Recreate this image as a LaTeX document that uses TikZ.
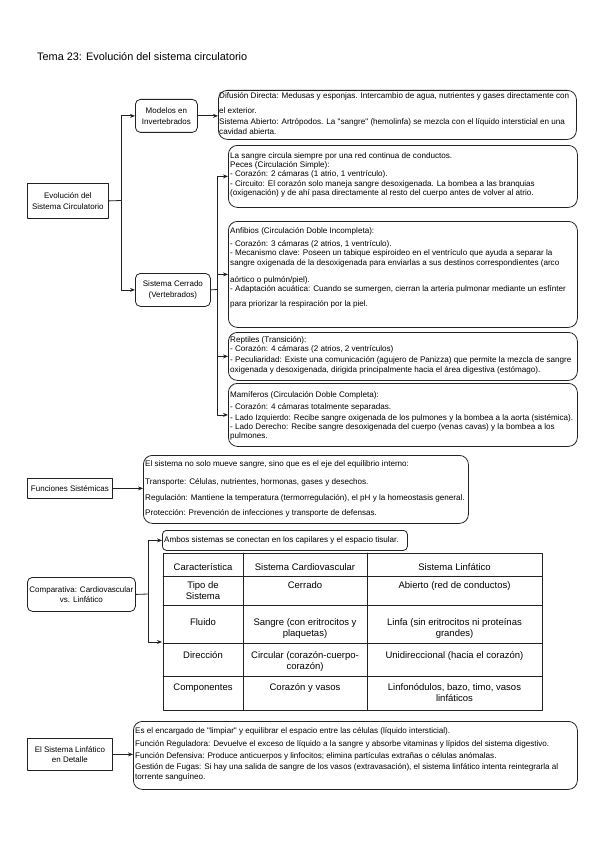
\documentclass[tikz,border=0pt]{standalone}
\usepackage{fontspec}
\setmainfont{Liberation Sans}
\usetikzlibrary{arrows.meta, positioning}
\definecolor{ink}{HTML}{222222}
\tikzset{
  >={Stealth[length=5pt, width=4pt]},
  every picture/.style={line cap=round, line join=round},
  caja/.style={draw=ink, line width=0.8pt, fill=white, align=center, inner sep=0pt,
               anchor=north west, font=\fontsize{8}{10.5}\selectfont},
  rcaja/.style={caja, rounded corners=5pt},
  % boxes holding the explanatory text
  nota/.style={draw=ink, line width=0.8pt, rounded corners=9pt, anchor=north west, inner sep=0pt},
  texto/.style={anchor=north west, align=left, inner sep=0pt, font=\fontsize{8.1}{9.6}\selectfont},
  celda/.style={anchor=north, align=center, inner sep=0pt, font=\fontsize{9.5}{11.8}\selectfont},
  sig/.style={->, line width=0.8pt, draw=ink},
  lin/.style={line width=0.8pt, draw=ink},
}

\begin{document}
\begin{tikzpicture}[x=1pt, y=-1pt]
  \useasboundingbox (0,0) rectangle (599,848);
  \node[anchor=base west, inner sep=0pt, font=\fontsize{10.9}{13}\selectfont] (titulo) at (37,61)
    {Tema 23: Evolución del sistema circulatorio};
  % left column
  \node[caja, minimum width=81, minimum height=35] (evol) at (27,183) {Evolución del\\Sistema Circulatorio};
  \node[rcaja, minimum width=62, minimum height=33] (modinv) at (135,99) {Modelos en\\Invertebrados};
  \node[rcaja, minimum width=75, minimum height=33] (sistcer) at (135,273) {Sistema Cerrado\\(Vertebrados)};
  \node[caja, minimum width=85, minimum height=20] (funcs) at (27,478) {Funciones Sistémicas};
  \node[rcaja, minimum width=108, minimum height=34] (comp) at (27,577) {Comparativa: Cardiovascular\\vs. Linfático};
  \node[caja, minimum width=85, minimum height=32] (linf) at (27,738) {El Sistema Linfático\\en Detalle};
  % text boxes
  \node[nota, minimum width=358, minimum height=49] (binv) at (218,90) {};
  \node[texto] (tinv) at (219,92.3) {Difusión Directa: Medusas y esponjas. Intercambio de agua, nutrientes y gases directamente con\\[5.4pt]
    el exterior.\\[1.4pt]
    Sistema Abierto: Artrópodos. La \textquotedbl sangre\textquotedbl\ (hemolinfa) se mezcla con el líquido intersticial en una\\
    cavidad abierta.};
  \node[nota, minimum width=349, minimum height=62] (bpeces) at (228,145) {};
  \node[texto] (tpeces) at (230,152.3) {La sangre circula siempre por una red continua de conductos.\\[-0.3pt]
    Peces (Circulación Simple):\\[-0.3pt]
    - Corazón: 2 cámaras (1 atrio, 1 ventrículo).\\
    - Circuito: El corazón solo maneja sangre desoxigenada. La bombea a las branquias\\[-0.3pt]
    (oxigenación) y de ahí pasa directamente al resto del cuerpo antes de volver al atrio.};
  \node[nota, minimum width=349, minimum height=106] (banf) at (228,221) {};
  \node[texto] (tanf) at (230,227.3) {Anfibios (Circulación Doble Incompleta):\\[3.4pt]
    - Corazón: 3 cámaras (2 atrios, 1 ventrículo).\\[-0.4pt]
    - Mecanismo clave: Poseen un tabique espiroideo en el ventrículo que ayuda a separar la\\
    sangre oxigenada de la desoxigenada para enviarlas a sus destinos correspondientes (arco\\[7.4pt]
    aórtico o pulmón/piel).\\
    - Adaptación acuática: Cuando se sumergen, cierran la arteria pulmonar mediante un esfínter\\[5.4pt]
    para priorizar la respiración por la piel.};
  \node[nota, minimum width=349, minimum height=48] (brept) at (228,332) {};
  \node[texto] (trept) at (230,336.3) {Reptiles (Transición):\\[-0.6pt]
    - Corazón: 4 cámaras (2 atrios, 2 ventrículos)\\[1.4pt]
    - Peculiaridad: Existe una comunicación (agujero de Panizza) que permite la mezcla de sangre\\
    oxigenada y desoxigenada, dirigida principalmente hacia el área digestiva (estómago).};
  \node[nota, minimum width=349, minimum height=63] (bmam) at (228,383) {};
  \node[texto] (tmam) at (230,391.3) {Mamíferos (Circulación Doble Completa):\\[2.4pt]
    - Corazón: 4 cámaras totalmente separadas.\\[1.4pt]
    - Lado Izquierdo: Recibe sangre oxigenada de los pulmones y la bombea a la aorta (sistémica).\\[-0.6pt]
    - Lado Derecho: Recibe sangre desoxigenada del cuerpo (venas cavas) y la bombea a los\\[-0.6pt]
    pulmones.};
  \node[nota, minimum width=325, minimum height=68] (bfunc) at (143,455) {};
  \node[texto] (tfunc) at (145,460.3) {El sistema no solo mueve sangre, sino que es el eje del equilibrio interno:\\[8.4pt]
    Transporte: Células, nutrientes, hormonas, gases y desechos.\\[6.4pt]
    Regulación: Mantiene la temperatura (termorregulación), el pH y la homeostasis general.\\[5.4pt]
    Protección: Prevención de infecciones y transporte de defensas.};
  \node[nota, rounded corners=4pt, minimum width=245, minimum height=20] (ambos) at (162,530) {};
  \node[texto, anchor=west] (tambos) at (164,540) {Ambos sistemas se conectan en los capilares y el espacio tisular.};
  \node[nota, minimum width=444, minimum height=68] (blinf) at (133,721) {};
  \node[texto] (tlinf) at (135,727.3) {Es el encargado de \textquotedbl limpiar\textquotedbl\ y equilibrar el espacio entre las células (líquido intersticial).\\[3.4pt]
    Función Reguladora: Devuelve el exceso de líquido a la sangre y absorbe vitaminas y lípidos del sistema digestivo.\\[2.4pt]
    Función Defensiva: Produce anticuerpos y linfocitos; elimina partículas extrañas o células anómalas.\\[1.4pt]
    Gestión de Fugas: Si hay una salida de sangre de los vasos (extravasación), el sistema linfático intenta reintegrarla al\\[0.4pt]
    torrente sanguíneo.};
  % comparison table
  \node[draw=ink, line width=0.8pt, anchor=north west, inner sep=0pt, minimum width=379, minimum height=157] (tabla) at (163,553) {};
  \foreach \xx in {243,367} \draw[lin] (\xx,553) -- (\xx,710);
  \foreach \yy in {576,605,643,676} \draw[lin] (163,\yy) -- (542,\yy);
  \foreach \yy/\ca/\cb/\cc [count=\r] in {
      561.7/{Característica}/{Sistema Cardiovascular}/{Sistema Linfático},
      579.7/{Tipo de\\Sistema}/{Cerrado}/{Abierto (red de conductos)},
      616.7/{Fluido}/{Sangre (con eritrocitos y\\plaquetas)}/{Linfa (sin eritrocitos ni proteínas\\grandes)},
      649.7/{Dirección}/{Circular (corazón-cuerpo-\\corazón)}/{Unidireccional (hacia el corazón)},
      681.7/{Componentes}/{Corazón y vasos}/{Linfonódulos, bazo, timo, vasos\\linfáticos}} {
    \node[celda] (c\r-1) at (203,\yy) {\strut\ca};
    \node[celda] (c\r-2) at (305,\yy) {\strut\cb};
    \node[celda] (c\r-3) at (454.5,\yy) {\strut\cc};
  }
  % connectors
  \coordinate (j1) at (121,200.5);
  \coordinate (j2) at (217,289.5);
  \coordinate (j3) at (148,594);
  \coordinate (tabin) at (162,642);
  \draw[lin] (evol.east) -- (j1);
  \draw[sig] (j1) |- (modinv.west);
  \draw[sig] (j1) |- (sistcer.west);
  \draw[sig] (modinv.east) -- (modinv.east -| binv.west);
  \draw[lin] (sistcer.east) -- (j2);
  \foreach \b in {bpeces, banf, brept, bmam} \draw[sig] (j2) |- (\b.west);
  \draw[sig] (funcs.east) -- (funcs.east -| bfunc.west);
  \draw[lin] (comp.east) -- (j3);
  \draw[sig] (j3) |- (ambos.west);
  \draw[sig] (j3) |- (tabin);
  \draw[sig] (linf.east) -- (linf.east -| blinf.west);
\end{tikzpicture}
\end{document}
